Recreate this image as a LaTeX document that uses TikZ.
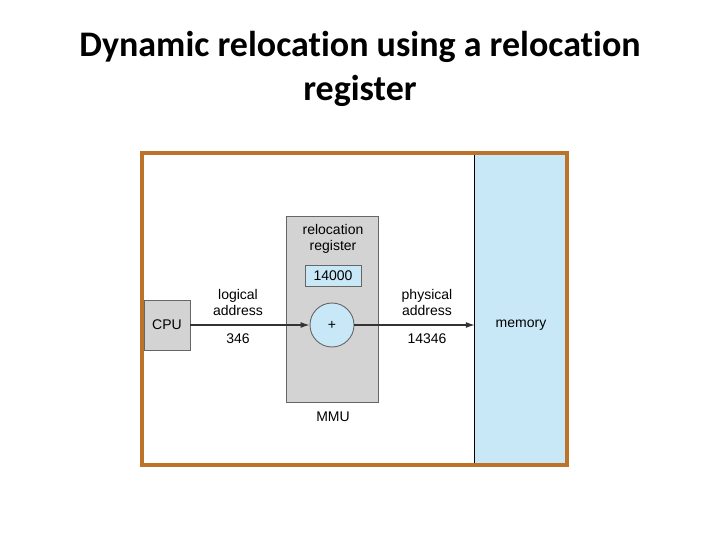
\documentclass[tikz,border=0pt]{standalone}
\usepackage{fontspec}
\setmainfont{Liberation Sans}
\newfontfamily\titlefont[Ligatures=NoCommon]{Carlito}
\usepackage{xcolor}
\definecolor{rimbrown}{HTML}{BC7329}
\definecolor{memblue}{HTML}{C8E8F8}
\definecolor{mmugray}{HTML}{D3D3D3}
\usepackage{tikz}
\usetikzlibrary{arrows.meta,positioning}

\begin{document}
\begin{tikzpicture}[x=1pt,y=-1pt,font=\fontsize{14}{16}\selectfont,
  graybox/.style={draw=black!60,line width=0.9pt,fill=mmugray,inner sep=0pt},
  lbl/.style={align=center,inner sep=0pt},
  addr/.style={-{Latex[length=9pt,width=6pt]},line width=1.2pt,draw=black!80}]
\useasboundingbox (0,0) rectangle (720,540);
% title
\node[lbl,font=\titlefont\bfseries\fontsize{36}{44}\selectfont] (title) at (360,69)
  {Dynamic relocation using a relocation\\register};
% memory column
\node[fill=memblue,minimum width=90pt,minimum height=308pt,inner sep=0pt] (mem) at (520,309) {};
\draw[line width=0.9pt] (mem.north west) -- (mem.south west);
\node[lbl] (memlbl) at (521,325) {memory};
% MMU
\node[graybox,minimum width=92pt,minimum height=186pt] (mmu) at (332,309) {};
\node[lbl] (mmulbl) at (333,417) {MMU};
\node[lbl] (reloc) at (333,239) {relocation\\register};
\node[graybox,fill=memblue,minimum width=56pt,minimum height=21pt] (reg) at (333,275.5) {14000};
\node[graybox,circle,fill=memblue,minimum size=44pt] (adder) at (332,325) {+};
% CPU
\node[graybox,minimum width=46pt,minimum height=50pt] (cpu) at (167,325) {CPU};
% addresses
\draw[addr] (cpu.east) -- (adder.west);
\draw[addr] (adder.east) -- (adder -| mem.west);
\node[lbl] (logic) at (238,302) {logical\\address};
\node[lbl] (logval) at (238,339) {346};
\node[lbl] (phys) at (427,302) {physical\\address};
\node[lbl] (physval) at (427,339) {14346};
% frame
\draw[rimbrown,line width=4pt] (142,153) rectangle (567,465);
\end{tikzpicture}
\end{document}
